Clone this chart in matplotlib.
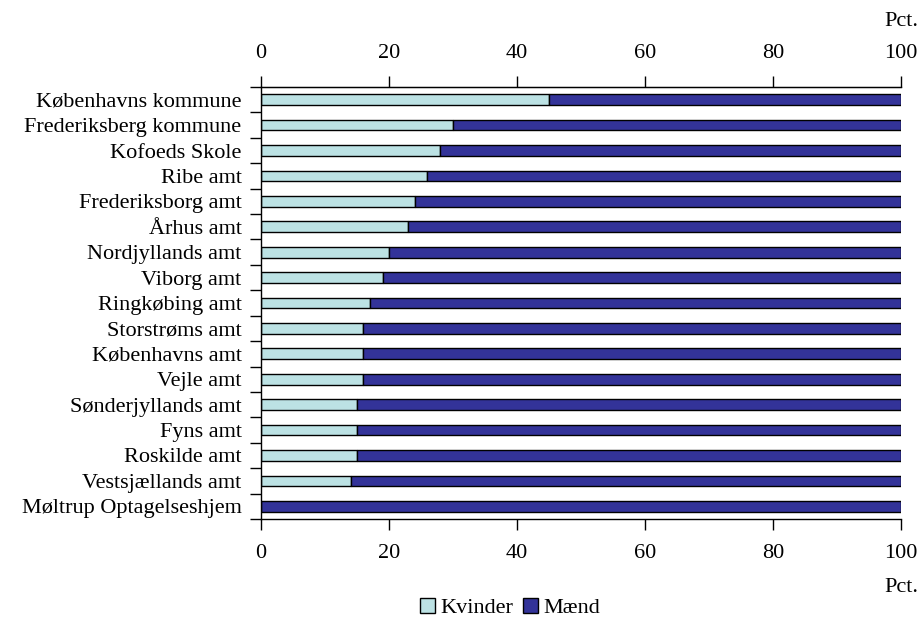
import numpy as np
import matplotlib
matplotlib.use("Agg")
import matplotlib.pyplot as plt
from matplotlib.patches import Patch

plt.rcParams['font.family'] = ['Liberation Serif', 'DejaVu Serif']

categories = ["Københavns kommune", "Frederiksberg kommune", "Kofoeds Skole",
              "Ribe amt", "Frederiksborg amt", "Århus amt", "Nordjyllands amt",
              "Viborg amt", "Ringkøbing amt", "Storstrøms amt", "Københavns amt",
              "Vejle amt", "Sønderjyllands amt", "Fyns amt", "Roskilde amt",
              "Vestsjællands amt", "Møltrup Optagelseshjem"]
kvinder = [45, 30, 28, 26, 24, 23, 20, 19, 17, 16, 16, 16, 15, 15, 15, 14, 0]
maend = [100 - k for k in kvinder]
xticks = [0, 20, 40, 60, 80, 100]

LIGHT = "#bce2e4"
DARK = "#333399"
FONTSIZE = 16

fig = plt.figure(figsize=(9.2, 6.21), dpi=100)
ax = fig.add_axes([261 / 920, 1 - 519 / 621, 640 / 920, 432 / 621])

y = np.arange(len(categories))
ax.barh(y, kvinder, height=0.42, color=LIGHT, edgecolor="black", linewidth=1)
ax.barh(y, maend, left=kvinder, height=0.42, color=DARK, edgecolor="black", linewidth=1)

ax.set_xlim(0, 100)
ax.set_ylim(len(categories) - 0.5, -0.5)
ax.set_xticks(xticks)
ax.set_xticklabels([str(t) for t in xticks])
ax.tick_params(axis="x", direction="out", length=8, width=1, pad=10, labelsize=FONTSIZE)

# top axis carries its own copy of the ticks
top = ax.secondary_xaxis("top")
top.set_xticks(xticks)
top.set_xticklabels([str(t) for t in xticks])
top.tick_params(axis="x", direction="out", length=8, width=1, pad=9, labelsize=FONTSIZE)

ax.set_yticks(y)
ax.set_yticklabels(categories)
ax.set_yticks(np.arange(len(categories) + 1) - 0.5, minor=True)
ax.tick_params(axis="y", which="major", length=0, pad=14, labelsize=FONTSIZE)
ax.tick_params(axis="y", which="minor", length=8, width=1, direction="out")

ax.spines["right"].set_visible(False)
for s in ["top", "bottom", "left"]:
    ax.spines[s].set_linewidth(1)

fig.text(918 / 920, 1 - 21 / 621, "Pct.", ha="right", va="center", fontsize=FONTSIZE)
fig.text(918 / 920, 1 - 588 / 621, "Pct.", ha="right", va="center", fontsize=FONTSIZE)

handles = [Patch(facecolor=LIGHT, edgecolor="black", label="Kvinder"),
           Patch(facecolor=DARK, edgecolor="black", label="Mænd")]
fig.legend(handles=handles, loc="center", bbox_to_anchor=(510 / 920, 1 - 608 / 621),
           ncol=2, frameon=False, fontsize=FONTSIZE, handlelength=0.7, handleheight=0.7,
           handletextpad=0.25, columnspacing=0.4, borderpad=0)

fig.savefig("out.png", dpi=100)
